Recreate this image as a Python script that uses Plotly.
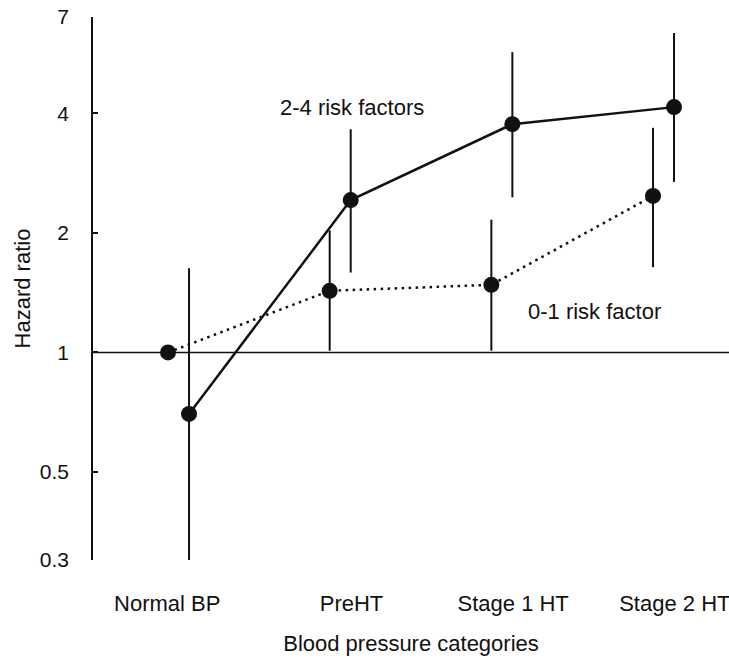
import plotly.graph_objects as go
import math

categories = ["Normal BP", "PreHT", "Stage 1 HT", "Stage 2 HT"]
label_shift = [-0.07, 0.07, 0.07, 0.07]

hr_low = [1.0, 1.43, 1.48, 2.48]          # 0-1 risk factor
ci_low_lo = [None, 1.01, 1.01, 1.64]
ci_low_hi = [None, 2.03, 2.16, 3.68]

hr_high = [0.70, 2.42, 3.76, 4.15]        # 2-4 risk factors
ci_high_lo = [0.29, 1.59, 2.46, 2.69]
ci_high_hi = [1.63, 3.65, 5.71, 6.38]

y_ticks = [0.3, 0.5, 1, 2, 4, 7]
y_ticktext = ["0.3", "0.5", "1", "2", "4", "7"]

offset = 0.065
FONT = "Liberation Sans, Arial, sans-serif"
INK = "#111111"

def err(vals, lo, hi):
    plus = [(h - v) if h is not None else 0 for v, h in zip(vals, hi)]
    minus = [(v - l) if l is not None else 0 for v, l in zip(vals, lo)]
    return plus, minus

x_low = [i - offset for i in range(len(categories))]
x_high = [i + offset for i in range(len(categories))]

p_low, m_low = err(hr_low, ci_low_lo, ci_low_hi)
p_high, m_high = err(hr_high, ci_high_lo, ci_high_hi)

fig = go.Figure()
fig.add_shape(type="line", xref="paper", x0=0, x1=1, yref="y", y0=1, y1=1,
              line=dict(color=INK, width=1.5), layer="below")

fig.add_trace(go.Scatter(
    x=x_low, y=hr_low, mode="lines+markers", name="0-1 risk factor",
    line=dict(color=INK, width=2.5, dash="2.5px,4.5px"),
    marker=dict(size=16, color=INK),
    error_y=dict(type="data", symmetric=False, array=p_low, arrayminus=m_low,
                 color=INK, thickness=2, width=0),
    cliponaxis=False,
))
fig.add_trace(go.Scatter(
    x=x_high, y=hr_high, mode="lines+markers", name="2-4 risk factors",
    line=dict(color=INK, width=2.5),
    marker=dict(size=16, color=INK),
    error_y=dict(type="data", symmetric=False, array=p_high, arrayminus=m_high,
                 color=INK, thickness=2, width=0),
))

fig.add_annotation(x=1.07, y=math.log10(4.13), text="2-4 risk factors", showarrow=False,
                   font=dict(size=22, color=INK, family=FONT), xanchor="center", yanchor="middle")
fig.add_annotation(x=2.57, y=math.log10(1.27), text="0-1 risk factor", showarrow=False,
                   font=dict(size=22, color=INK, family=FONT), xanchor="center", yanchor="middle")

fig.update_layout(
    width=729, height=660,
    margin=dict(l=93, r=0, t=17, b=100),
    plot_bgcolor="white", paper_bgcolor="white",
    showlegend=False,
    font=dict(family=FONT, color=INK, size=22),
    xaxis=dict(
        range=[-0.529, 3.405],
        tickmode="array",
        tickvals=[i + s for i, s in enumerate(label_shift)],
        ticktext=categories,
        showline=False, showgrid=False, zeroline=False, ticks="",
        ticklabelstandoff=28,
        ticklabeloverflow="allow",
        tickfont=dict(size=22, family=FONT, color=INK),
        title=dict(text="Blood pressure categories", font=dict(size=22, family=FONT, color=INK),
                   standoff=20),
        automargin=False,
    ),
    yaxis=dict(
        type="log",
        range=[math.log10(0.3), math.log10(7)],
        tickmode="array", tickvals=y_ticks, ticktext=y_ticktext,
        showline=True, linecolor=INK, linewidth=1.5,
        ticks="inside", ticklen=5, tickcolor=INK, tickwidth=1.5,
        showgrid=False, zeroline=False,
        ticklabelstandoff=18,
        tickfont=dict(size=21, family=FONT, color=INK),
        title=dict(text="Hazard ratio", font=dict(size=22, family=FONT, color=INK), standoff=3),
        automargin=True,
    ),
)

fig.write_html("out.html")
